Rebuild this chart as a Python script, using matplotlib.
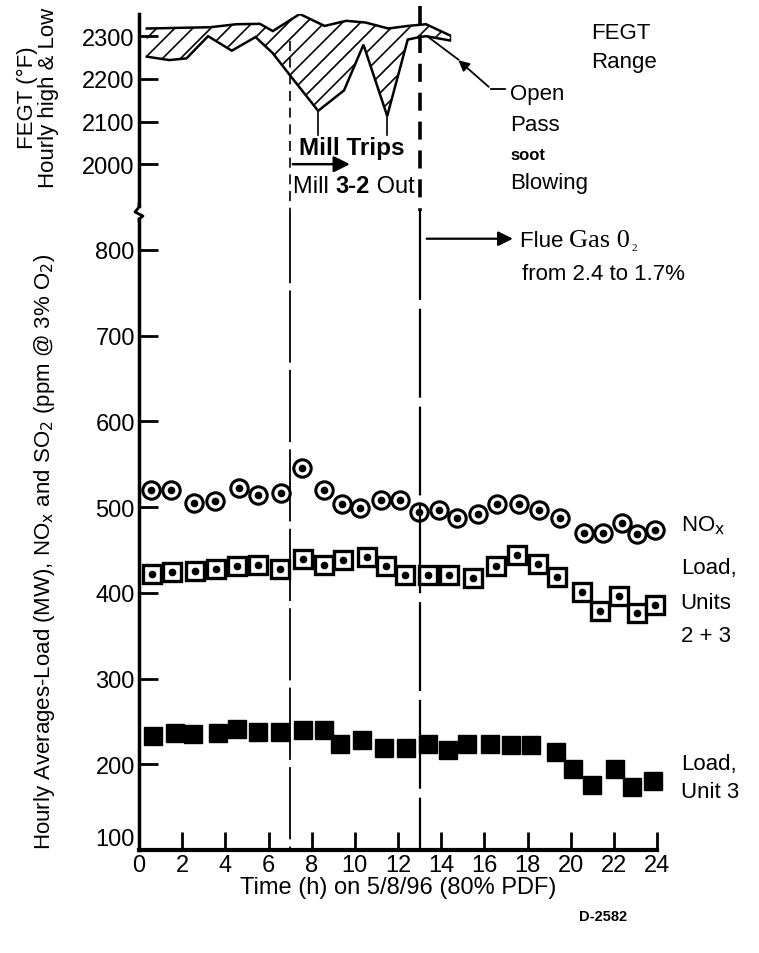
import matplotlib
matplotlib.use("Agg")
import matplotlib.pyplot as plt
import numpy as np
from matplotlib.transforms import blended_transform_factory, IdentityTransform
from matplotlib.lines import Line2D
from matplotlib.patches import Polygon

plt.rcParams['font.family'] = ['Liberation Sans Narrow', 'Liberation Sans', 'DejaVu Sans']

# ---- FEGT range (top panel) ----
fegt_hi_t = [0.36, 3.3, 4.5, 5.6, 6.2, 7.45, 8.6, 9.6, 10.5, 11.55, 12.45, 13.3, 14.4]
fegt_hi = [2318, 2321, 2328, 2329, 2312, 2352, 2324, 2336, 2332, 2318, 2324, 2328, 2302]
fegt_lo_t = [0.36, 1.4, 2.2, 3.2, 4.3, 5.4, 6.2, 7.0, 8.3, 9.5, 10.4, 11.5, 12.45, 13.0, 13.3, 14.4]
fegt_lo = [2252, 2244, 2248, 2300, 2266, 2298, 2260, 2208, 2125, 2173, 2280, 2113, 2292, 2298, 2300, 2290]

# ---- hourly averages (bottom panel) ----
nox_t = [0.56, 1.47, 2.56, 3.52, 4.63, 5.52, 6.59, 7.56, 8.56, 9.41, 10.26, 11.19, 12.11,
         12.97, 13.89, 14.74, 15.7, 16.58, 17.59, 18.55, 19.52, 20.63, 21.52, 22.36, 23.07, 23.9]
nox = [520, 520, 505, 507, 522, 514, 516, 545, 520, 503, 499, 508, 508,
       494, 496, 487, 492, 504, 504, 496, 487, 470, 470, 481, 469, 473]

load23_t = [0.59, 1.55, 2.6, 3.55, 4.53, 5.52, 6.53, 7.59, 8.56, 9.47, 10.56, 11.44, 12.33,
            13.4, 14.36, 15.47, 16.56, 17.52, 18.48, 19.37, 20.51, 21.37, 22.26, 23.07, 23.9]
load23 = [422, 424, 426, 428, 431, 433, 428, 439, 433, 438, 442, 431, 421,
          421, 421, 417, 431, 444, 434, 419, 401, 379, 396, 376, 386]

load3_t = [0.63, 1.67, 2.51, 3.64, 4.56, 5.52, 6.53, 7.62, 8.59, 9.3, 10.33, 11.34, 12.38,
           13.37, 14.33, 15.22, 16.26, 17.22, 18.18, 19.3, 20.1, 21.0, 22.04, 22.85, 23.8]
load3 = [233, 236, 235, 236, 241, 238, 238, 240, 240, 224, 228, 219, 219,
         224, 217, 224, 224, 223, 223, 214, 194, 176, 194, 174, 180]

x_ticks = list(range(0, 25, 2))
top_ticks = [2000, 2100, 2200, 2300]
bot_ticks = [100, 200, 300, 400, 500, 600, 700, 800]

W, H = 759, 954
fig = plt.figure(figsize=(W / 100, H / 100), dpi=100)
FS = 16


def fx(px):
    return px / W


def fy(py):
    return 1 - py / H


ax_top = fig.add_axes([fx(139), fy(207), fx(657) - fx(139), fy(15) - fy(207)])
ax = fig.add_axes([fx(139), fy(851), fx(657) - fx(139), fy(220) - fy(851)])

for a in (ax_top, ax):
    a.set_xlim(0, 24)
    for s in ('top', 'right'):
        a.spines[s].set_visible(False)
    a.spines['left'].set_linewidth(2.5)
    a.tick_params(axis='y', direction='in', length=14, width=2, labelsize=17, pad=3)

ax_top.set_ylim(1902, 2352)
ax_top.spines['bottom'].set_visible(False)
ax_top.set_xticks([])
ax_top.set_yticks(top_ticks)
ax_top.patch.set_alpha(0)

ax.set_ylim(100, 836)
ax.spines['bottom'].set_linewidth(3)
ax.set_xticks(x_ticks)
ax.set_yticks(bot_ticks)
ax.tick_params(axis='x', direction='in', length=13, width=2, labelsize=17, pad=3)
ax.set_xlabel('Time (h) on 5/8/96 (80% PDF)', fontsize=17, labelpad=0)
# the "100" label sits a touch higher so it clears the "0" below it
ax.get_yticklabels()[0].set_va('bottom')

# hatched FEGT band: outline polygon, diagonal hatch lines clipped to it
tt = np.union1d(fegt_hi_t, fegt_lo_t)
hi_i = np.interp(tt, fegt_hi_t, fegt_hi)
lo_i = np.interp(tt, fegt_lo_t, fegt_lo)
band = Polygon(np.column_stack([np.r_[tt, tt[::-1]], np.r_[hi_i, lo_i[::-1]]]),
               closed=True, facecolor='none', edgecolor='none', transform=ax_top.transData)
ax_top.add_patch(band)
for c in np.arange(-1200, 1200, 18):
    hl = Line2D([0, 1200], [-c, 1200 - c], transform=IdentityTransform(), color='black', lw=1.2)
    hl.set_clip_path(band)
    fig.add_artist(hl)
ax_top.plot(fegt_hi_t, fegt_hi, color='black', lw=1.8, solid_joinstyle='miter')
ax_top.plot(fegt_lo_t, fegt_lo, color='black', lw=1.8, solid_joinstyle='miter')
ax_top.plot([fegt_hi_t[-1], fegt_lo_t[-1]], [fegt_hi[-1], fegt_lo[-1]], color='black', lw=1)

# mill trip pointers
ax_top.plot([8.3, 8.3], [2125, 2068], color='black', lw=1.2)
ax_top.plot([11.5, 11.5], [2113, 2068], color='black', lw=1.2)
ax_top.annotate('', xy=(9.9, 2000), xytext=(7.0, 2000),
                arrowprops=dict(arrowstyle='-|>', color='black', lw=1.8, mutation_scale=24))
ax_top.text(9.85, 2040, 'Mill Trips', fontsize=17.5, fontweight='bold', ha='center', va='center')
m1 = ax_top.text(7.12, 1948, 'Mill ', fontsize=17, ha='left', va='center')
m2 = ax_top.annotate('3-2', xy=(1, 0), xycoords=m1, xytext=(0, 0), textcoords='offset points',
                     fontsize=17, fontweight='bold', va='bottom')
ax_top.annotate(' Out', xy=(1, 0), xycoords=m2, xytext=(0, 0), textcoords='offset points',
                fontsize=17, va='bottom')

# open pass soot blowing leader
ax_top.plot([13.35, 14.8], [2300, 2245], color='black', lw=1.3, clip_on=False)
ax_top.annotate('', xy=(14.7, 2248), xytext=(16.3, 2177),
                arrowprops=dict(arrowstyle='-|>', color='black', lw=1.3, mutation_scale=16),
                annotation_clip=False)
ax_top.plot([16.3, 16.95], [2177, 2177], color='black', lw=1.3, clip_on=False)
ax_top.text(17.2, 2165, 'Open', fontsize=FS, va='center', clip_on=False)
ax_top.text(17.2, 2093, 'Pass', fontsize=FS, va='center', clip_on=False)
ax_top.text(17.2, 2022, 'soot', fontsize=12, fontweight='bold', va='center', clip_on=False)
ax_top.text(17.2, 1958, 'Blowing', fontsize=FS, va='center', clip_on=False)
ax_top.text(20.96, 2308, 'FEGT', fontsize=FS, va='center', clip_on=False)
ax_top.text(20.96, 2240, 'Range', fontsize=FS, va='center', clip_on=False)

# vertical event lines across both panels
tr = blended_transform_factory(ax.transData, fig.transFigure)
fig.add_artist(Line2D([7, 7], [fy(42), fy(212)], transform=tr, color='black', lw=1.2, dashes=(6, 4)))
fig.add_artist(Line2D([7, 7], [fy(212), fy(851)], transform=tr, color='black', lw=1.3, dashes=(40, 4)))
fig.add_artist(Line2D([13, 13], [fy(7), fy(212)], transform=tr, color='black', lw=2.6, dashes=(5, 3)))
fig.add_artist(Line2D([13, 13], [fy(212), fy(851)], transform=tr, color='black', lw=1.6, dashes=(40, 4)))

# axis break zigzag
fig.add_artist(Line2D([fx(139), fx(139), fx(135), fx(143), fx(139), fx(139)],
                      [fy(205), fy(208), fy(213), fy(217), fy(220), fy(222)],
                      color='black', lw=2))

# flue gas annotation
ax.annotate('', xy=(17.45, 813), xytext=(13.2, 813),
            arrowprops=dict(arrowstyle='-|>', color='black', lw=1.6, mutation_scale=22),
            annotation_clip=False)
flue = ax.text(17.65, 805, 'Flue ', fontsize=FS, va='baseline', clip_on=False)
gas = ax.annotate('Gas 0', xy=(1, 0), xycoords=flue, xytext=(0, 0), textcoords='offset points',
                  fontsize=19, family='Liberation Serif', va='bottom', annotation_clip=False)
ax.annotate('2', xy=(1, 0), xycoords=gas, xytext=(1, -1), textcoords='offset points',
            fontsize=8, family='Liberation Serif', va='bottom', annotation_clip=False)
ax.text(17.75, 772, 'from 2.4 to 1.7%', fontsize=FS, va='center', clip_on=False)

# data markers
ax.plot(nox_t, nox, 'o', ms=12.5, mfc='white', mec='black', mew=2.2, clip_on=False)
ax.plot(nox_t, nox, 'o', ms=4.5, color='black', clip_on=False)
ax.plot(load23_t, load23, 's', ms=13, mfc='white', mec='black', mew=2.4, clip_on=False)
ax.plot(load23_t, load23, 'o', ms=4.5, color='black', clip_on=False)
ax.plot(load3_t, load3, 's', ms=13, color='black', clip_on=False)

ax.text(25.1, 479, 'NO$_{\\mathrm{x}}$', fontsize=FS, va='center', clip_on=False)
ax.text(25.1, 429, 'Load,', fontsize=FS, va='center', clip_on=False)
ax.text(25.1, 389, 'Units', fontsize=FS, va='center', clip_on=False)
ax.text(25.1, 350, '2 + 3', fontsize=FS, va='center', clip_on=False)
ax.text(25.1, 201, 'Load,', fontsize=FS, va='center', clip_on=False)
ax.text(25.1, 168, 'Unit 3', fontsize=FS, va='center', clip_on=False)

# y labels
fig.text(fx(45), fy(552), 'Hourly Averages-Load (MW), NO$_{\\mathrm{x}}$ and SO$_2$ (ppm @ 3% O$_2$)',
         rotation=90, fontsize=16, ha='center', va='center')
fig.text(fx(38), fy(98), 'FEGT (°F)\nHourly high & Low', rotation=90, fontsize=16,
         ha='center', va='center', linespacing=1.05)
fig.text(fx(603), fy(917), 'D-2582', fontsize=10.5, fontweight='bold', ha='center', va='center')

fig.savefig('out.png', dpi=100)
